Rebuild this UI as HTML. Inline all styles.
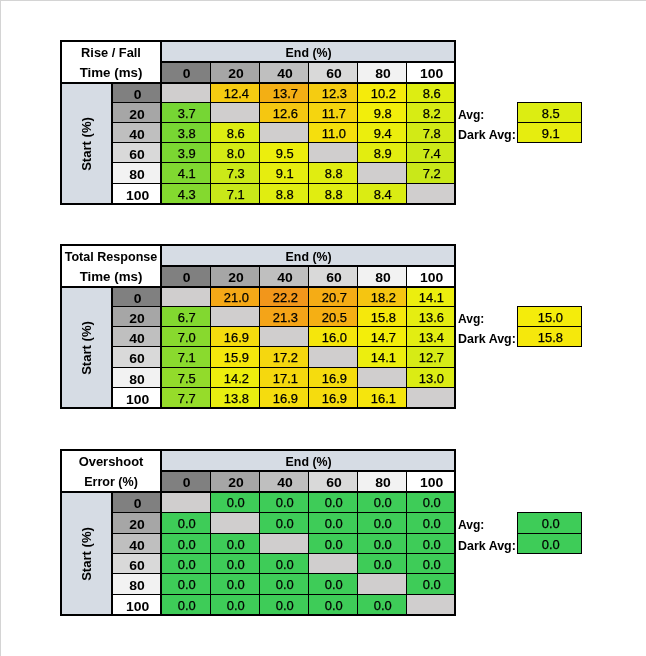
<!DOCTYPE html>
<html><head><meta charset="utf-8"><title>Response Times</title><style>
html,body{margin:0;padding:0;background:#fff}
body{width:646px;height:656px;position:relative;overflow:hidden;font-family:"Liberation Sans",sans-serif;font-size:12.7px;color:#000}
.frame{position:absolute;left:0;top:0;width:646px;height:656px;box-sizing:border-box;border-left:1px solid #d4d4d4;border-top:1px solid #d4d4d4}
.c{position:absolute;box-sizing:border-box;text-align:center;line-height:20px;white-space:nowrap;overflow:hidden}
i{font-style:normal;display:inline-block;transform:scaleX(1.02);position:relative;top:0;left:1px;-webkit-text-stroke:.25px #000}
.b{font-weight:bold}
.b i{transform:scaleX(1.04);top:.5px;-webkit-text-stroke:0}
.l i{transform:scaleX(1.0);top:.5px;left:0;-webkit-text-stroke:0}
.n i{transform:scaleX(1.1)}
.t2 i{display:block;line-height:20px;margin:0 -10px;left:-.3px}
.l{position:absolute;font-weight:bold;line-height:20px;height:20px;white-space:nowrap}
.l i{transform-origin:0 50%}
.c .rot{position:absolute;left:50%;top:50%;transform:translate(-50%,-50%) rotate(-90deg) scaleX(1.03);display:block}
</style></head><body><div class="frame"></div>
<div class="c " style="left:60px;top:40px;width:396px;height:165px;background:#000;"></div>
<div class="c b t2" style="left:62px;top:42px;width:98px;height:40px;background:#fff;"><i style="transform:scaleX(1.01)">Rise / Fall</i><i style="transform:scaleX(1.05)">Time (ms)</i></div>
<div class="c b" style="left:162px;top:42px;width:292px;height:19px;background:#d6dce4;"><i style="transform:scaleX(0.975)">End (%)</i></div>
<div class="c b n" style="left:162px;top:63px;width:48px;height:19px;background:#808080;"><i>0</i></div>
<div class="c b n" style="left:211px;top:63px;width:48px;height:19px;background:#a6a6a6;"><i>20</i></div>
<div class="c b n" style="left:260px;top:63px;width:48px;height:19px;background:#bfbfbf;"><i>40</i></div>
<div class="c b n" style="left:309px;top:63px;width:48px;height:19px;background:#d9d9d9;"><i>60</i></div>
<div class="c b n" style="left:358px;top:63px;width:48px;height:19px;background:#f2f2f2;"><i>80</i></div>
<div class="c b n" style="left:407px;top:63px;width:47px;height:19px;background:#ffffff;"><i>100</i></div>
<div class="c b" style="left:62px;top:84px;width:49px;height:119px;background:#d6dce4;"><i class='rot'>Start (%)</i></div>
<div class="c b n" style="left:113px;top:84px;width:47px;height:18px;background:#808080;"><i>0</i></div>
<div class="c " style="left:162px;top:84px;width:48px;height:18px;background:#d0cece;"></div>
<div class="c " style="left:211px;top:84px;width:48px;height:18px;background:#f5cb11;"><i>12.4</i></div>
<div class="c " style="left:260px;top:84px;width:48px;height:18px;background:#f3af14;"><i>13.7</i></div>
<div class="c " style="left:309px;top:84px;width:48px;height:18px;background:#f5cc11;"><i>12.3</i></div>
<div class="c " style="left:358px;top:84px;width:48px;height:18px;background:#f5eb0b;"><i>10.2</i></div>
<div class="c " style="left:407px;top:84px;width:47px;height:18px;background:#dded12;"><i>8.6</i></div>
<div class="c b n" style="left:113px;top:103px;width:47px;height:19px;background:#a6a6a6;padding-top:1px;"><i>20</i></div>
<div class="c " style="left:162px;top:103px;width:48px;height:19px;background:#76d634;padding-top:1px;"><i>3.7</i></div>
<div class="c " style="left:211px;top:103px;width:48px;height:19px;background:#d0cece;"></div>
<div class="c " style="left:260px;top:103px;width:48px;height:19px;background:#f5c711;padding-top:1px;"><i>12.6</i></div>
<div class="c " style="left:309px;top:103px;width:48px;height:19px;background:#f5d50f;padding-top:1px;"><i>11.7</i></div>
<div class="c " style="left:358px;top:103px;width:48px;height:19px;background:#f2ee0b;padding-top:1px;"><i>9.8</i></div>
<div class="c " style="left:407px;top:103px;width:47px;height:19px;background:#d7ec14;padding-top:1px;"><i>8.2</i></div>
<div class="c b n" style="left:113px;top:123px;width:47px;height:19px;background:#bfbfbf;padding-top:1px;"><i>40</i></div>
<div class="c " style="left:162px;top:123px;width:48px;height:19px;background:#78d733;padding-top:1px;"><i>3.8</i></div>
<div class="c " style="left:211px;top:123px;width:48px;height:19px;background:#dded12;padding-top:1px;"><i>8.6</i></div>
<div class="c " style="left:260px;top:123px;width:48px;height:19px;background:#d0cece;"></div>
<div class="c " style="left:309px;top:123px;width:48px;height:19px;background:#f5df0d;padding-top:1px;"><i>11.0</i></div>
<div class="c " style="left:358px;top:123px;width:48px;height:19px;background:#ebee0d;padding-top:1px;"><i>9.4</i></div>
<div class="c " style="left:407px;top:123px;width:47px;height:19px;background:#d2ea16;padding-top:1px;"><i>7.8</i></div>
<div class="c b n" style="left:113px;top:143px;width:47px;height:19px;background:#d9d9d9;padding-top:1px;"><i>60</i></div>
<div class="c " style="left:162px;top:143px;width:48px;height:19px;background:#7bd732;padding-top:1px;"><i>3.9</i></div>
<div class="c " style="left:211px;top:143px;width:48px;height:19px;background:#d5eb15;padding-top:1px;"><i>8.0</i></div>
<div class="c " style="left:260px;top:143px;width:48px;height:19px;background:#ecee0d;padding-top:1px;"><i>9.5</i></div>
<div class="c " style="left:309px;top:143px;width:48px;height:19px;background:#d0cece;"></div>
<div class="c " style="left:358px;top:143px;width:48px;height:19px;background:#e2ed10;padding-top:1px;"><i>8.9</i></div>
<div class="c " style="left:407px;top:143px;width:47px;height:19px;background:#cce918;padding-top:1px;"><i>7.4</i></div>
<div class="c b n" style="left:113px;top:163px;width:47px;height:20px;background:#f2f2f2;padding-top:1px;"><i>80</i></div>
<div class="c " style="left:162px;top:163px;width:48px;height:20px;background:#80d831;padding-top:1px;"><i>4.1</i></div>
<div class="c " style="left:211px;top:163px;width:48px;height:20px;background:#cbe918;padding-top:1px;"><i>7.3</i></div>
<div class="c " style="left:260px;top:163px;width:48px;height:20px;background:#e6ed0f;padding-top:1px;"><i>9.1</i></div>
<div class="c " style="left:309px;top:163px;width:48px;height:20px;background:#e0ed11;padding-top:1px;"><i>8.8</i></div>
<div class="c " style="left:358px;top:163px;width:48px;height:20px;background:#d0cece;"></div>
<div class="c " style="left:407px;top:163px;width:47px;height:20px;background:#c9e819;padding-top:1px;"><i>7.2</i></div>
<div class="c b n" style="left:113px;top:184px;width:47px;height:19px;background:#ffffff;padding-top:1px;"><i>100</i></div>
<div class="c " style="left:162px;top:184px;width:48px;height:19px;background:#84d92f;padding-top:1px;"><i>4.3</i></div>
<div class="c " style="left:211px;top:184px;width:48px;height:19px;background:#c8e819;padding-top:1px;"><i>7.1</i></div>
<div class="c " style="left:260px;top:184px;width:48px;height:19px;background:#e0ed11;padding-top:1px;"><i>8.8</i></div>
<div class="c " style="left:309px;top:184px;width:48px;height:19px;background:#e0ed11;padding-top:1px;"><i>8.8</i></div>
<div class="c " style="left:358px;top:184px;width:48px;height:19px;background:#daec13;padding-top:1px;"><i>8.4</i></div>
<div class="c " style="left:407px;top:184px;width:47px;height:19px;background:#d0cece;"></div>
<div class="c " style="left:517px;top:102px;width:65px;height:41px;background:#000;"></div>
<div class="c " style="left:518px;top:103px;width:63px;height:19px;background:#dced12;padding-top:1px;"><i>8.5</i></div>
<div class="c " style="left:518px;top:123px;width:63px;height:19px;background:#e6ed0f;padding-top:1px;"><i>9.1</i></div>
<div class="l" style="left:458px;top:104px"><i style="transform:scaleX(0.95)">Avg:</i></div>
<div class="l" style="left:458px;top:124px"><i style="transform:scaleX(0.98)">Dark Avg:</i></div>
<div class="c " style="left:60px;top:244px;width:396px;height:165px;background:#000;"></div>
<div class="c b t2" style="left:62px;top:246px;width:98px;height:40px;background:#fff;"><i style="transform:scaleX(0.99)">Total Response</i><i style="transform:scaleX(1.05)">Time (ms)</i></div>
<div class="c b" style="left:162px;top:246px;width:292px;height:19px;background:#d6dce4;"><i style="transform:scaleX(0.975)">End (%)</i></div>
<div class="c b n" style="left:162px;top:267px;width:48px;height:19px;background:#808080;"><i>0</i></div>
<div class="c b n" style="left:211px;top:267px;width:48px;height:19px;background:#a6a6a6;"><i>20</i></div>
<div class="c b n" style="left:260px;top:267px;width:48px;height:19px;background:#bfbfbf;"><i>40</i></div>
<div class="c b n" style="left:309px;top:267px;width:48px;height:19px;background:#d9d9d9;"><i>60</i></div>
<div class="c b n" style="left:358px;top:267px;width:48px;height:19px;background:#f2f2f2;"><i>80</i></div>
<div class="c b n" style="left:407px;top:267px;width:47px;height:19px;background:#ffffff;"><i>100</i></div>
<div class="c b" style="left:62px;top:288px;width:49px;height:119px;background:#d6dce4;"><i class='rot'>Start (%)</i></div>
<div class="c b n" style="left:113px;top:288px;width:47px;height:18px;background:#808080;"><i>0</i></div>
<div class="c " style="left:162px;top:288px;width:48px;height:18px;background:#d0cece;"></div>
<div class="c " style="left:211px;top:288px;width:48px;height:18px;background:#f4a817;"><i>21.0</i></div>
<div class="c " style="left:260px;top:288px;width:48px;height:18px;background:#f2961b;"><i>22.2</i></div>
<div class="c " style="left:309px;top:288px;width:48px;height:18px;background:#f5ac15;"><i>20.7</i></div>
<div class="c " style="left:358px;top:288px;width:48px;height:18px;background:#f5c511;"><i>18.2</i></div>
<div class="c " style="left:407px;top:288px;width:47px;height:18px;background:#ecee0e;"><i>14.1</i></div>
<div class="c b n" style="left:113px;top:307px;width:47px;height:19px;background:#a6a6a6;padding-top:1px;"><i>20</i></div>
<div class="c " style="left:162px;top:307px;width:48px;height:19px;background:#82d830;padding-top:1px;"><i>6.7</i></div>
<div class="c " style="left:211px;top:307px;width:48px;height:19px;background:#d0cece;"></div>
<div class="c " style="left:260px;top:307px;width:48px;height:19px;background:#f4a418;padding-top:1px;"><i>21.3</i></div>
<div class="c " style="left:309px;top:307px;width:48px;height:19px;background:#f5af14;padding-top:1px;"><i>20.5</i></div>
<div class="c " style="left:358px;top:307px;width:48px;height:19px;background:#f5e80c;padding-top:1px;"><i>15.8</i></div>
<div class="c " style="left:407px;top:307px;width:47px;height:19px;background:#e5ed11;padding-top:1px;"><i>13.6</i></div>
<div class="c b n" style="left:113px;top:327px;width:47px;height:19px;background:#bfbfbf;padding-top:1px;"><i>40</i></div>
<div class="c " style="left:162px;top:327px;width:48px;height:19px;background:#88d92e;padding-top:1px;"><i>7.0</i></div>
<div class="c " style="left:211px;top:327px;width:48px;height:19px;background:#f5dc0e;padding-top:1px;"><i>16.9</i></div>
<div class="c " style="left:260px;top:327px;width:48px;height:19px;background:#d0cece;"></div>
<div class="c " style="left:309px;top:327px;width:48px;height:19px;background:#f5e60c;padding-top:1px;"><i>16.0</i></div>
<div class="c " style="left:358px;top:327px;width:48px;height:19px;background:#f3ee0a;padding-top:1px;"><i>14.7</i></div>
<div class="c " style="left:407px;top:327px;width:47px;height:19px;background:#e2ed12;padding-top:1px;"><i>13.4</i></div>
<div class="c b n" style="left:113px;top:347px;width:47px;height:20px;background:#d9d9d9;padding-top:1px;"><i>60</i></div>
<div class="c " style="left:162px;top:347px;width:48px;height:20px;background:#8ada2e;padding-top:1px;"><i>7.1</i></div>
<div class="c " style="left:211px;top:347px;width:48px;height:20px;background:#f5e70c;padding-top:1px;"><i>15.9</i></div>
<div class="c " style="left:260px;top:347px;width:48px;height:20px;background:#f5d70f;padding-top:1px;"><i>17.2</i></div>
<div class="c " style="left:309px;top:347px;width:48px;height:20px;background:#d0cece;"></div>
<div class="c " style="left:358px;top:347px;width:48px;height:20px;background:#ecee0e;padding-top:1px;"><i>14.1</i></div>
<div class="c " style="left:407px;top:347px;width:47px;height:20px;background:#d6eb16;padding-top:1px;"><i>12.7</i></div>
<div class="c b n" style="left:113px;top:368px;width:47px;height:19px;background:#f2f2f2;padding-top:1px;"><i>80</i></div>
<div class="c " style="left:162px;top:368px;width:48px;height:19px;background:#92db2b;padding-top:1px;"><i>7.5</i></div>
<div class="c " style="left:211px;top:368px;width:48px;height:19px;background:#edee0d;padding-top:1px;"><i>14.2</i></div>
<div class="c " style="left:260px;top:368px;width:48px;height:19px;background:#f5d80e;padding-top:1px;"><i>17.1</i></div>
<div class="c " style="left:309px;top:368px;width:48px;height:19px;background:#f5dc0e;padding-top:1px;"><i>16.9</i></div>
<div class="c " style="left:358px;top:368px;width:48px;height:19px;background:#d0cece;"></div>
<div class="c " style="left:407px;top:368px;width:47px;height:19px;background:#dbec14;padding-top:1px;"><i>13.0</i></div>
<div class="c b n" style="left:113px;top:388px;width:47px;height:19px;background:#ffffff;padding-top:1px;"><i>100</i></div>
<div class="c " style="left:162px;top:388px;width:48px;height:19px;background:#96dc2a;padding-top:1px;"><i>7.7</i></div>
<div class="c " style="left:211px;top:388px;width:48px;height:19px;background:#e8ee10;padding-top:1px;"><i>13.8</i></div>
<div class="c " style="left:260px;top:388px;width:48px;height:19px;background:#f5dc0e;padding-top:1px;"><i>16.9</i></div>
<div class="c " style="left:309px;top:388px;width:48px;height:19px;background:#f5dc0e;padding-top:1px;"><i>16.9</i></div>
<div class="c " style="left:358px;top:388px;width:48px;height:19px;background:#f5e50d;padding-top:1px;"><i>16.1</i></div>
<div class="c " style="left:407px;top:388px;width:47px;height:19px;background:#d0cece;"></div>
<div class="c " style="left:517px;top:306px;width:65px;height:41px;background:#000;"></div>
<div class="c " style="left:518px;top:307px;width:63px;height:19px;background:#f4ec0b;padding-top:1px;"><i>15.0</i></div>
<div class="c " style="left:518px;top:327px;width:63px;height:19px;background:#f5e80c;padding-top:1px;"><i>15.8</i></div>
<div class="l" style="left:458px;top:308px"><i style="transform:scaleX(0.95)">Avg:</i></div>
<div class="l" style="left:458px;top:328px"><i style="transform:scaleX(0.98)">Dark Avg:</i></div>
<div class="c " style="left:60px;top:449px;width:396px;height:167px;background:#000;"></div>
<div class="c b t2" style="left:62px;top:451px;width:98px;height:40px;background:#fff;"><i style="transform:scaleX(1.02)">Overshoot</i><i style="transform:scaleX(0.99)">Error (%)</i></div>
<div class="c b" style="left:162px;top:451px;width:292px;height:19px;background:#d6dce4;"><i style="transform:scaleX(0.975)">End (%)</i></div>
<div class="c b n" style="left:162px;top:472px;width:48px;height:19px;background:#808080;"><i>0</i></div>
<div class="c b n" style="left:211px;top:472px;width:48px;height:19px;background:#a6a6a6;"><i>20</i></div>
<div class="c b n" style="left:260px;top:472px;width:48px;height:19px;background:#bfbfbf;"><i>40</i></div>
<div class="c b n" style="left:309px;top:472px;width:48px;height:19px;background:#d9d9d9;"><i>60</i></div>
<div class="c b n" style="left:358px;top:472px;width:48px;height:19px;background:#f2f2f2;"><i>80</i></div>
<div class="c b n" style="left:407px;top:472px;width:47px;height:19px;background:#ffffff;"><i>100</i></div>
<div class="c b" style="left:62px;top:493px;width:49px;height:121px;background:#d6dce4;"><i class='rot'>Start (%)</i></div>
<div class="c b n" style="left:113px;top:493px;width:47px;height:19px;background:#808080;"><i>0</i></div>
<div class="c " style="left:162px;top:493px;width:48px;height:19px;background:#d0cece;"></div>
<div class="c " style="left:211px;top:493px;width:48px;height:19px;background:#3ecc58;"><i>0.0</i></div>
<div class="c " style="left:260px;top:493px;width:48px;height:19px;background:#3ecc58;"><i>0.0</i></div>
<div class="c " style="left:309px;top:493px;width:48px;height:19px;background:#3ecc58;"><i>0.0</i></div>
<div class="c " style="left:358px;top:493px;width:48px;height:19px;background:#3ecc58;"><i>0.0</i></div>
<div class="c " style="left:407px;top:493px;width:47px;height:19px;background:#3ecc58;"><i>0.0</i></div>
<div class="c b n" style="left:113px;top:513px;width:47px;height:20px;background:#a6a6a6;padding-top:1px;"><i>20</i></div>
<div class="c " style="left:162px;top:513px;width:48px;height:20px;background:#3ecc58;padding-top:1px;"><i>0.0</i></div>
<div class="c " style="left:211px;top:513px;width:48px;height:20px;background:#d0cece;"></div>
<div class="c " style="left:260px;top:513px;width:48px;height:20px;background:#3ecc58;padding-top:1px;"><i>0.0</i></div>
<div class="c " style="left:309px;top:513px;width:48px;height:20px;background:#3ecc58;padding-top:1px;"><i>0.0</i></div>
<div class="c " style="left:358px;top:513px;width:48px;height:20px;background:#3ecc58;padding-top:1px;"><i>0.0</i></div>
<div class="c " style="left:407px;top:513px;width:47px;height:20px;background:#3ecc58;padding-top:1px;"><i>0.0</i></div>
<div class="c b n" style="left:113px;top:534px;width:47px;height:19px;background:#bfbfbf;padding-top:1px;"><i>40</i></div>
<div class="c " style="left:162px;top:534px;width:48px;height:19px;background:#3ecc58;padding-top:1px;"><i>0.0</i></div>
<div class="c " style="left:211px;top:534px;width:48px;height:19px;background:#3ecc58;padding-top:1px;"><i>0.0</i></div>
<div class="c " style="left:260px;top:534px;width:48px;height:19px;background:#d0cece;"></div>
<div class="c " style="left:309px;top:534px;width:48px;height:19px;background:#3ecc58;padding-top:1px;"><i>0.0</i></div>
<div class="c " style="left:358px;top:534px;width:48px;height:19px;background:#3ecc58;padding-top:1px;"><i>0.0</i></div>
<div class="c " style="left:407px;top:534px;width:47px;height:19px;background:#3ecc58;padding-top:1px;"><i>0.0</i></div>
<div class="c b n" style="left:113px;top:554px;width:47px;height:19px;background:#d9d9d9;padding-top:1px;"><i>60</i></div>
<div class="c " style="left:162px;top:554px;width:48px;height:19px;background:#3ecc58;padding-top:1px;"><i>0.0</i></div>
<div class="c " style="left:211px;top:554px;width:48px;height:19px;background:#3ecc58;padding-top:1px;"><i>0.0</i></div>
<div class="c " style="left:260px;top:554px;width:48px;height:19px;background:#3ecc58;padding-top:1px;"><i>0.0</i></div>
<div class="c " style="left:309px;top:554px;width:48px;height:19px;background:#d0cece;"></div>
<div class="c " style="left:358px;top:554px;width:48px;height:19px;background:#3ecc58;padding-top:1px;"><i>0.0</i></div>
<div class="c " style="left:407px;top:554px;width:47px;height:19px;background:#3ecc58;padding-top:1px;"><i>0.0</i></div>
<div class="c b n" style="left:113px;top:574px;width:47px;height:20px;background:#f2f2f2;padding-top:1px;"><i>80</i></div>
<div class="c " style="left:162px;top:574px;width:48px;height:20px;background:#3ecc58;padding-top:1px;"><i>0.0</i></div>
<div class="c " style="left:211px;top:574px;width:48px;height:20px;background:#3ecc58;padding-top:1px;"><i>0.0</i></div>
<div class="c " style="left:260px;top:574px;width:48px;height:20px;background:#3ecc58;padding-top:1px;"><i>0.0</i></div>
<div class="c " style="left:309px;top:574px;width:48px;height:20px;background:#3ecc58;padding-top:1px;"><i>0.0</i></div>
<div class="c " style="left:358px;top:574px;width:48px;height:20px;background:#d0cece;"></div>
<div class="c " style="left:407px;top:574px;width:47px;height:20px;background:#3ecc58;padding-top:1px;"><i>0.0</i></div>
<div class="c b n" style="left:113px;top:595px;width:47px;height:19px;background:#ffffff;padding-top:1px;"><i>100</i></div>
<div class="c " style="left:162px;top:595px;width:48px;height:19px;background:#3ecc58;padding-top:1px;"><i>0.0</i></div>
<div class="c " style="left:211px;top:595px;width:48px;height:19px;background:#3ecc58;padding-top:1px;"><i>0.0</i></div>
<div class="c " style="left:260px;top:595px;width:48px;height:19px;background:#3ecc58;padding-top:1px;"><i>0.0</i></div>
<div class="c " style="left:309px;top:595px;width:48px;height:19px;background:#3ecc58;padding-top:1px;"><i>0.0</i></div>
<div class="c " style="left:358px;top:595px;width:48px;height:19px;background:#3ecc58;padding-top:1px;"><i>0.0</i></div>
<div class="c " style="left:407px;top:595px;width:47px;height:19px;background:#d0cece;"></div>
<div class="c " style="left:517px;top:512px;width:65px;height:42px;background:#000;"></div>
<div class="c " style="left:518px;top:513px;width:63px;height:20px;background:#3ecc58;padding-top:1px;"><i>0.0</i></div>
<div class="c " style="left:518px;top:534px;width:63px;height:19px;background:#3ecc58;padding-top:1px;"><i>0.0</i></div>
<div class="l" style="left:458px;top:514px"><i style="transform:scaleX(0.95)">Avg:</i></div>
<div class="l" style="left:458px;top:535px"><i style="transform:scaleX(0.98)">Dark Avg:</i></div>
</body></html>
